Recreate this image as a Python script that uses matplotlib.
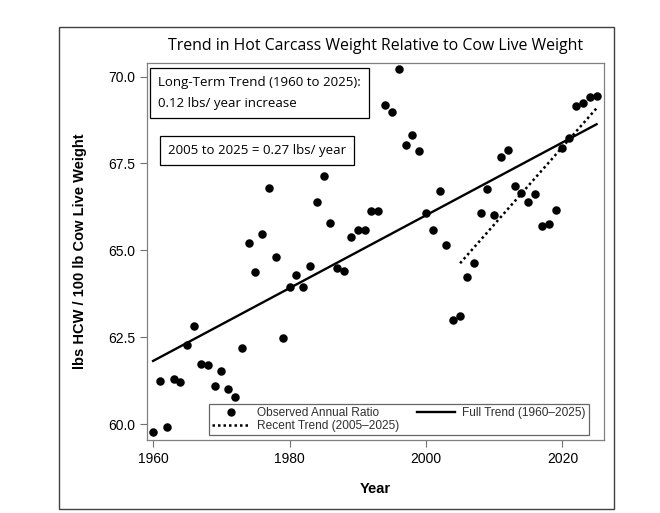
import matplotlib.pyplot as plt
import numpy as np
from matplotlib.patches import Rectangle
from matplotlib.lines import Line2D

# observed ratio, lbs hot carcass weight per 100 lb live weight
years = np.arange(1960, 2026)
ratio = [59.77, 61.24, 59.92, 61.29, 61.22, 62.28, 62.83, 61.73, 61.69, 61.09,
         61.53, 61.02, 60.79, 62.18, 65.20, 64.38, 65.46, 66.79, 64.82, 62.49,
         63.93, 64.30, 63.95, 64.56, 66.39, 67.15, 65.80, 64.49, 64.40, 65.39,
         65.57, 65.57, 66.12, 66.12, 69.19, 68.99, 70.23, 68.04, 68.32, 67.87,
         66.07, 65.58, 66.72, 65.16, 63.00, 63.12, 64.23, 64.63, 66.07, 66.77,
         66.02, 67.69, 67.90, 66.86, 66.65, 66.39, 66.63, 65.71, 65.76, 66.16,
         67.95, 68.22, 69.16, 69.23, 69.42, 69.43]
ratio = np.array(ratio)

recent_start = 2005
box1_text = "Long-Term Trend (1960 to 2025):\n0.12 lbs/ year increase"
box2_text = "2005 to 2025 = 0.27 lbs/ year"

plt.rcParams['font.family'] = ['Liberation Sans', 'DejaVu Sans']
fig = plt.figure(figsize=(6.6, 5.13), dpi=100)
ax = fig.add_axes([0.2227, 0.1423, 0.6925, 0.7355])

# outer frame of the graph
fig.patches.append(Rectangle((0.089, 0.008), 0.842, 0.939, transform=fig.transFigure,
                             fill=False, edgecolor='#404040', linewidth=1.0))

ax.scatter(years, ratio, s=26, color='black', zorder=3)

full = np.polyfit(years, ratio, 1)
ax.plot(years, np.polyval(full, years), color='black', lw=1.7)

m = years >= recent_start
recent = np.polyfit(years[m], ratio[m], 1)
ax.plot(years[m], np.polyval(recent, years[m]), color='black', lw=1.8, ls=(0, (1, 1.2)))

ax.set_xlim(1959.1, 2026.1)
ax.set_ylim(59.54, 70.4)
ax.set_xticks([1960, 1980, 2000, 2020])
ax.set_yticks([60.0, 62.5, 65.0, 67.5, 70.0])
ax.set_yticklabels(['60.0', '62.5', '65.0', '67.5', '70.0'])
ax.tick_params(length=5, width=0.8, color='#707070', labelsize=10)
for s in ax.spines.values():
    s.set_color('#808080')
    s.set_linewidth(0.9)

ax.set_xlabel('Year', fontsize=10.5, fontweight='bold', labelpad=12)
ax.set_ylabel('lbs HCW / 100 lb Cow Live Weight', fontsize=10.5, fontweight='bold', labelpad=15)
ax.set_title('Trend in Hot Carcass Weight Relative to Cow Live Weight', fontsize=11.4,
             family=['Open Sans', 'DejaVu Sans'], pad=9)

ax.text(0.024, 0.965, box1_text, transform=ax.transAxes, va='top', ha='left', fontsize=9.5,
        family=['Open Sans', 'DejaVu Sans'], linespacing=1.85,
        bbox=dict(boxstyle='square,pad=0.6', fc='white', ec='black', lw=0.9))
ax.text(0.046, 0.785, box2_text, transform=ax.transAxes, va='top', ha='left', fontsize=9.5,
        family=['Open Sans', 'DejaVu Sans'],
        bbox=dict(boxstyle='square,pad=0.6', fc='white', ec='black', lw=0.9))

handles = [Line2D([], [], ls='none', marker='o', ms=5, color='black'),
           Line2D([], [], color='black', lw=1.8, ls=(0, (1, 1.2))),
           Line2D([], [], color='black', lw=1.7)]
labels = ['Observed Annual Ratio', 'Recent Trend (2005\u20132025)', 'Full Trend (1960\u20132025)']
leg = ax.legend(handles, labels, ncol=2, loc='lower right', bbox_to_anchor=(0.967, 0.012),
                fontsize=8.6, frameon=True, fancybox=False, borderpad=0.25,
                handlelength=3.2, handletextpad=0.6, columnspacing=1.5, labelspacing=0.1,
                borderaxespad=0)
leg.get_frame().set_edgecolor('#404040')
leg.get_frame().set_linewidth(0.9)
for t in leg.get_texts():
    t.set_color('#303030')

fig.savefig('out.png', dpi=100)
